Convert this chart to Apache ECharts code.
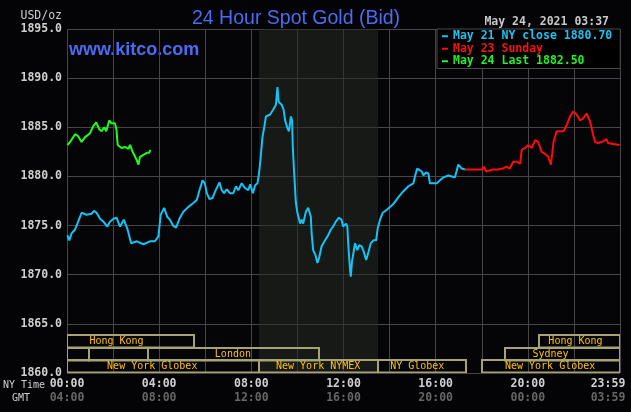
<!DOCTYPE html>
<html><head><meta charset="utf-8">
<script src="https://cdn.jsdelivr.net/npm/echarts@6/dist/echarts.min.js"></script>
<style>html,body{margin:0;padding:0;background:#040406;}#c{width:631px;height:412px;}</style>
</head><body><div id="c"></div>
<script>
// ---- data ----
const blueTimes = ['0:01','0:06','0:12','0:21','0:29','0:38','0:51','1:04','1:10','1:17','1:26','1:35','1:45','1:52','2:01','2:09','2:18','2:28','2:37','2:47','3:02','3:19','3:36','3:49','3:58','4:04','4:13','4:21','4:28','4:36','4:44','4:54','5:03','5:16','5:29','5:38','5:45','5:53','5:59','6:04','6:11','6:19','6:25','6:37','6:43','6:49','6:56','7:04','7:13','7:20','7:26','7:35','7:44','7:52','7:57','8:04','8:10','8:16','8:20','8:24','8:29','8:34','8:38','8:49','8:57','9:04','9:08','9:11','9:19','9:24','9:28','9:34','9:38','9:43','9:46','9:48','9:51','9:56','10:00','10:07','10:11','10:15','10:22','10:28','10:31','10:35','10:37','10:41','10:47','10:52','10:57','11:03','11:12','11:20','11:27','11:33','11:40','11:48','11:55','11:59','12:07','12:10','12:13','12:17','12:19','12:22','12:30','12:36','12:41','12:47','12:53','12:59','13:05','13:11','13:18','13:25','13:29','13:35','13:42','13:53','14:01','14:10','14:23','14:36','14:49','15:02','15:06','15:12','15:17','15:24','15:28','15:35','15:41','15:45','15:54','16:03','16:11','16:20','16:33','16:42','16:50','16:59','17:08','17:16'];
const blueValues = [1874.0,1873.5,1874.2,1874.6,1875.4,1876.3,1876.1,1876.2,1876.5,1876.3,1875.7,1875.4,1874.9,1875.4,1875.7,1875.8,1874.9,1875.6,1874.7,1873.2,1873.4,1873.1,1873.4,1873.4,1873.9,1876.1,1876.8,1875.9,1875.6,1875.0,1874.8,1875.8,1876.4,1876.9,1877.3,1877.6,1878.6,1879.6,1879.3,1878.3,1877.7,1877.8,1878.4,1879.4,1878.6,1878.3,1878.7,1878.3,1878.3,1879.0,1878.6,1879.3,1878.8,1878.6,1879.2,1878.3,1879.1,1879.3,1880.3,1881.8,1884.0,1885.1,1886.1,1886.3,1886.8,1887.3,1889.1,1887.6,1887.3,1886.8,1885.7,1884.9,1884.6,1886.1,1885.7,1883.0,1880.7,1877.3,1876.3,1875.2,1875.6,1875.2,1876.4,1876.8,1876.9,1875.9,1874.2,1872.5,1872.0,1871.2,1871.8,1872.9,1873.5,1874.0,1874.6,1874.9,1875.4,1875.8,1875.6,1874.9,1875.2,1874.9,1872.7,1870.5,1869.8,1871.3,1873.2,1872.5,1873.0,1872.9,1872.3,1871.5,1872.3,1873.2,1873.5,1873.5,1874.7,1875.6,1876.3,1876.6,1876.9,1877.2,1877.9,1878.5,1879.0,1879.3,1880.0,1880.8,1881.0,1880.5,1880.1,1880.4,1880.3,1879.3,1879.3,1879.3,1879.6,1879.9,1880.1,1880.0,1879.9,1881.2,1880.8,1880.7];

const redTimes = ['17:16','18:02','18:05','18:12','18:29','18:42','18:55','19:04','19:13','19:22','19:31','19:40','19:44','19:53','20:01','20:10','20:19','20:27','20:36','20:45','20:53','21:00','21:07','21:15','21:24','21:33','21:41','21:50','21:58','22:07','22:16','22:24','22:33','22:42','22:49','22:55','23:03','23:12','23:25','23:29','23:42','23:59'];
const redValues = [1880.7,1880.7,1881.0,1880.5,1880.7,1880.7,1880.8,1881.0,1880.8,1881.5,1881.5,1881.3,1882.7,1882.9,1883.2,1882.9,1883.7,1883.5,1882.5,1882.3,1882.0,1881.2,1883.5,1884.6,1884.6,1884.6,1885.2,1886.1,1886.6,1886.3,1885.7,1885.9,1886.4,1885.6,1884.4,1883.5,1883.4,1883.5,1883.8,1883.4,1883.3,1883.2];

const greenTimes = ['0:01','0:08','0:21','0:29','0:38','0:47','1:00','1:08','1:16','1:24','1:30','1:37','1:42','1:50','1:56','2:05','2:09','2:12','2:22','2:31','2:40','2:44','2:51','3:00','3:06','3:10','3:19','3:28','3:34','3:37'];
const greenValues = [1883.2,1883.5,1884.3,1884.1,1883.5,1884.0,1884.4,1885.1,1885.5,1884.8,1884.6,1885.0,1884.6,1885.7,1885.4,1885.4,1884.7,1883.2,1882.9,1883.0,1882.8,1883.2,1882.5,1881.8,1881.2,1882.0,1882.2,1882.4,1882.4,1882.7];

const legendNames = ['May 21 NY close 1880.70','May 23 Sunday','May 24 Last 1882.50'];
const nyTimeLabels = ['00:00','04:00','08:00','12:00','16:00','20:00','23:59'];
const gmtLabels = ['04:00','08:00','12:00','16:00','20:00','00:00','03:59'];
const nymexSpan = ['8:20','13:30'];

const sessionStart = ['0:00','20:30','0:00','0:57','3:30','19:00','0:00','8:20','13:30','18:00'];
const sessionEnd   = ['5:30','24:00','0:57','3:30','10:57','24:00','8:20','13:30','17:20','24:00'];
const sessionRow   = [2,2,1,1,1,1,0,0,0,0];
const sessionLabel = ['Hong Kong','Hong Kong','','','London','Sydney','New York Globex','New York NYMEX','NY Globex','New York Globex'];
const sessionLabelAt = ['2:09','22:04','0:00','0:00','7:12','20:59','3:42','10:54','15:12','20:58'];

// ---- helpers ----
const MONO = '"DejaVu Sans Mono", monospace';
function toH(t){const p=t.split(':').map(Number);return p[0]+p[1]/60;}
function pts(ts,vs){return ts.map((t,i)=>[toH(t),vs[i]]);}

const chart = echarts.init(document.getElementById('c'));
const sessionData = sessionStart.map((s,i)=>[toH(s),toH(sessionEnd[i]),sessionRow[i]]);

const option = {
  backgroundColor:'#040406',
  animation:false,
  title:{text:'24 Hour Spot Gold (Bid)', left:192, top:9, padding:0,
    textStyle:{color:'#4b6cf2', fontSize:19.5, fontWeight:'normal', fontFamily:'"Liberation Sans", Arial, sans-serif'}},
  grid:{left:67,right:11,top:29,bottom:39,show:true,backgroundColor:'#050507',borderWidth:0,
    containLabel:false, outerBoundsMode:'none'},
  legend:{orient:'vertical', left:437, top:29, padding:[1,8,1,5], itemWidth:6, itemHeight:2, itemGap:0,
    icon:'rect', backgroundColor:'#000', borderColor:'#4a4a4a', borderWidth:1, selectedMode:false,
    textStyle:{fontFamily:MONO, fontSize:11.5, fontWeight:'bold', lineHeight:12.5},
    data:[
      {name:legendNames[0], textStyle:{color:'#1cc2f2'}},
      {name:legendNames[1], textStyle:{color:'#f51414'}},
      {name:legendNames[2], textStyle:{color:'#22f022'}}
    ]},
  xAxis:{type:'value',min:0,max:24,interval:2,
    axisLine:{show:false}, axisTick:{show:false},
    splitLine:{show:true,lineStyle:{color:'#474747',width:1}},
    axisLabel:{margin:4, showMaxLabel:true,
      formatter:function(v){ if(v%4!==0) return ''; const i=v/4;
        if(i===6) return '{c|'+nyTimeLabels[i]+'}\n{d|'+gmtLabels[i]+'}';
        return '{a|'+nyTimeLabels[i]+'}\n{b|'+gmtLabels[i]+'}'; },
      rich:{
        a:{color:'#d0d0d0',fontFamily:MONO,fontWeight:'bold',fontSize:11.5,lineHeight:14},
        b:{color:'#666666',fontFamily:MONO,fontWeight:'bold',fontSize:11.5,lineHeight:14},
        c:{color:'#d0d0d0',fontFamily:MONO,fontWeight:'bold',fontSize:11.5,lineHeight:14,padding:[0,24,0,0]},
        d:{color:'#666666',fontFamily:MONO,fontWeight:'bold',fontSize:11.5,lineHeight:14,padding:[0,24,0,0]}
      }}},
  yAxis:{type:'value',min:1860,max:1895,interval:5,
    axisLine:{show:false}, axisTick:{show:false},
    splitLine:{show:true,lineStyle:{color:'#474747',width:1}},
    axisLabel:{margin:5,color:'#d0d0d0',fontFamily:MONO,fontWeight:'bold',fontSize:11.5,
      formatter:v=>v.toFixed(1)}},
  graphic:[
    {type:'text', x:62, y:16, style:{text:'USD/oz', align:'right', verticalAlign:'middle', textAlign:'right', textVerticalAlign:'middle', fill:'#cfcfcf', font:'11.5px '+MONO}},
    {type:'text', x:69, y:50, style:{text:'www.kitco.com', verticalAlign:'middle', textVerticalAlign:'middle', fill:'#4b6cf2', font:'bold 18px "Liberation Sans", Arial, sans-serif'}},
    {type:'text', x:609, y:22, style:{text:'May 24, 2021 03:37', align:'right', verticalAlign:'middle', textAlign:'right', textVerticalAlign:'middle', fill:'#c8c8c8', font:'bold 11.5px '+MONO}},
    {type:'text', x:3, y:385, style:{text:'NY Time', verticalAlign:'middle', textVerticalAlign:'middle', fill:'#cfcfcf', font:'10px '+MONO}},
    {type:'text', x:12, y:398, style:{text:'GMT', verticalAlign:'middle', textVerticalAlign:'middle', fill:'#cfcfcf', font:'10px '+MONO}}
  ],
  series:[
    {type:'custom', name:'sessions', clip:true, silent:true, z:1,
      data:sessionData, encode:{x:[0,1], y:2},
      renderItem:function(params, api){
        const i=params.dataIndex;
        const pS=api.coord([api.value(0),1860]), pE=api.coord([api.value(1),1860]);
        const rowH=12.6;
        const y0=Math.round(pS[1]-(api.value(2)+1)*rowH);
        const x0=Math.round(pS[0]), x1=Math.round(pE[0]);
        const kids=[{type:'rect', shape:{x:x0, y:y0, width:x1-x0, height:rowH},
          style:{fill:null, stroke:'#a6a374', lineWidth:2}}];
        if(sessionLabel[i]){
          const lx=api.coord([toH(sessionLabelAt[i]),1860])[0];
          kids.push({type:'text', x:lx, y:y0+rowH/2+0.5, style:{text:sessionLabel[i], align:'center', verticalAlign:'middle', fill:'#ffc20c', font:'10px '+MONO}});
        }
        return {type:'group', children:kids};
      }},
    {type:'line', name:legendNames[0], data:pts(blueTimes,blueValues), showSymbol:false, symbol:'none', z:3,
      lineStyle:{color:'#14c3f5', width:2}, itemStyle:{color:'#14c3f5'},
      markArea:{silent:true, itemStyle:{color:'rgba(36,41,32,0.55)'},
        data:[[{xAxis:toH(nymexSpan[0])},{xAxis:toH(nymexSpan[1])}]]}},
    {type:'line', name:legendNames[1], data:pts(redTimes,redValues), showSymbol:false, symbol:'none', z:3,
      lineStyle:{color:'#ff0a0a', width:2}, itemStyle:{color:'#ff0a0a'}},
    {type:'line', name:legendNames[2], data:pts(greenTimes,greenValues), showSymbol:false, symbol:'none', z:3,
      lineStyle:{color:'#1cff1c', width:2}, itemStyle:{color:'#1cff1c'}}
  ]
};
chart.setOption(option);
</script></body></html>
